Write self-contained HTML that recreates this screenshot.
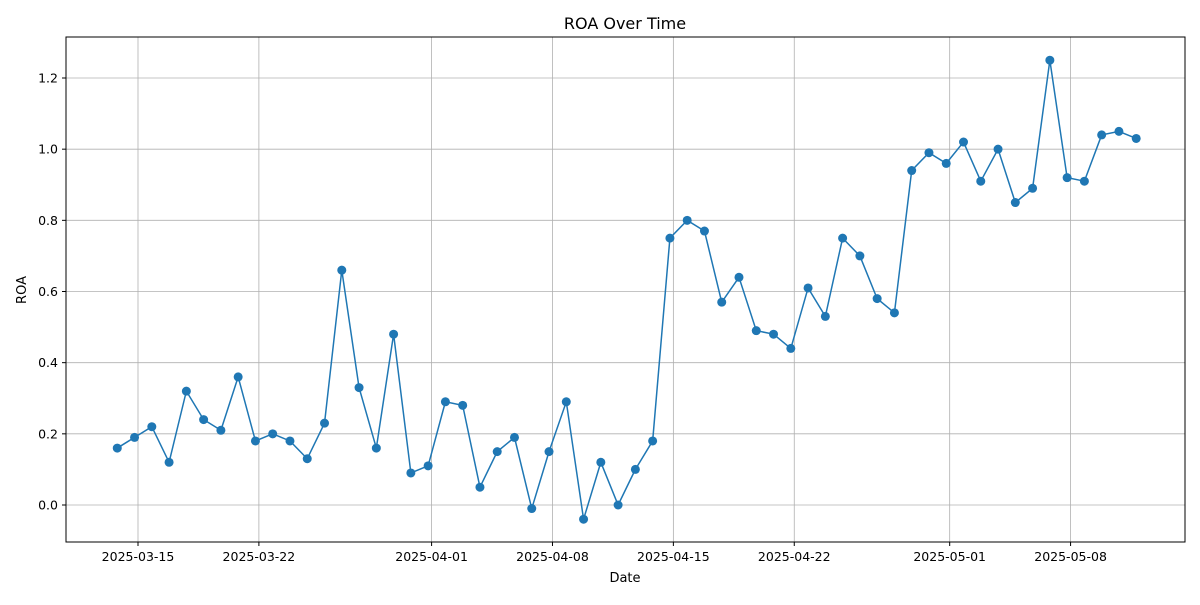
<!DOCTYPE html>
<html><head><meta charset="utf-8"><style>
body{margin:0;background:#fff;font-family:"Liberation Sans","DejaVu Sans",sans-serif}
</style></head><body>
<svg id="chart" width="1200" height="600" xmlns="http://www.w3.org/2000/svg" font-family="DejaVu Sans, Liberation Sans, sans-serif">
<rect width="1200" height="600" fill="#fff"/>
<g id="grid"></g>
<g id="marks"></g>
<rect x="66" y="37" width="1119" height="505" fill="none" stroke="#000" stroke-width="1"/>
<g id="axes" font-size="12.5"></g>
<text x="625" y="29" text-anchor="middle" font-size="16">ROA Over Time</text>
<text x="625" y="582" text-anchor="middle" font-size="13">Date</text>
<text x="26" y="290" text-anchor="middle" font-size="13" transform="rotate(-90 26 290)">ROA</text>
</svg>
<script>
const roaValues=[0.16,0.19,0.22,0.12,0.32,0.24,0.21,0.36,0.18,0.20,0.18,0.13,0.23,0.66,0.33,0.16,0.48,0.09,0.11,0.29,0.28,0.05,0.15,0.19,-0.01,0.15,0.29,-0.04,0.12,0.00,0.10,0.18,0.75,0.80,0.77,0.57,0.64,0.49,0.48,0.44,0.61,0.53,0.75,0.70,0.58,0.54,0.94,0.99,0.96,1.02,0.91,1.00,0.85,0.89,1.25,0.92,0.91,1.04,1.05,1.03];
const xTickLabels=["2025-03-15","2025-03-22","2025-04-01","2025-04-08","2025-04-15","2025-04-22","2025-05-01","2025-05-08"];
const xTickDays=[0,7,17,24,31,38,47,54];
const yTicks=[0.0,0.2,0.4,0.6,0.8,1.0,1.2];
const startOffset=-1.2;
const ns="http://www.w3.org/2000/svg";
const X=d=>138+d*17.27;
const Y=v=>505-v*(427/1.2);
function mk(tag,attrs,parent){const e=document.createElementNS(ns,tag);for(const k in attrs)e.setAttribute(k,attrs[k]);parent.appendChild(e);return e;}
const grid=document.getElementById('grid'),axes=document.getElementById('axes'),marks=document.getElementById('marks');
xTickDays.forEach((d,i)=>{const x=X(d);
 const g=mk('line',{x1:x,x2:x,y1:37,y2:542,stroke:'#b0b0b0','stroke-width':0.8},grid);
 
 
 mk('line',{x1:x,x2:x,y1:542,y2:546,stroke:'#000'},axes);
 const t=mk('text',{x:x,y:561,'text-anchor':'middle'},axes);t.textContent=xTickLabels[i];
 
 
});
yTicks.forEach(v=>{const y=Y(v);
 const g=mk('line',{x1:66,x2:1185,y1:y,y2:y,stroke:'#b0b0b0','stroke-width':0.8},grid);
 
 
 mk('line',{x1:62,x2:66,y1:y,y2:y,stroke:'#000'},axes);
 const t=mk('text',{x:58,y:y+4.5,'text-anchor':'end'},axes);t.textContent=v.toFixed(1);
 
 
});
const pts=roaValues.map((v,i)=>[X(startOffset+i),Y(v)]);
const line=mk('polyline',{points:pts.map(p=>p.join(',')).join(' '),fill:'none',stroke:'#1f77b4','stroke-width':1.5},marks);


pts.forEach(p=>{const c=mk('circle',{cx:p[0],cy:p[1],r:4.5,fill:'#1f77b4'},marks);
 
 
});
</script>
</body></html>
